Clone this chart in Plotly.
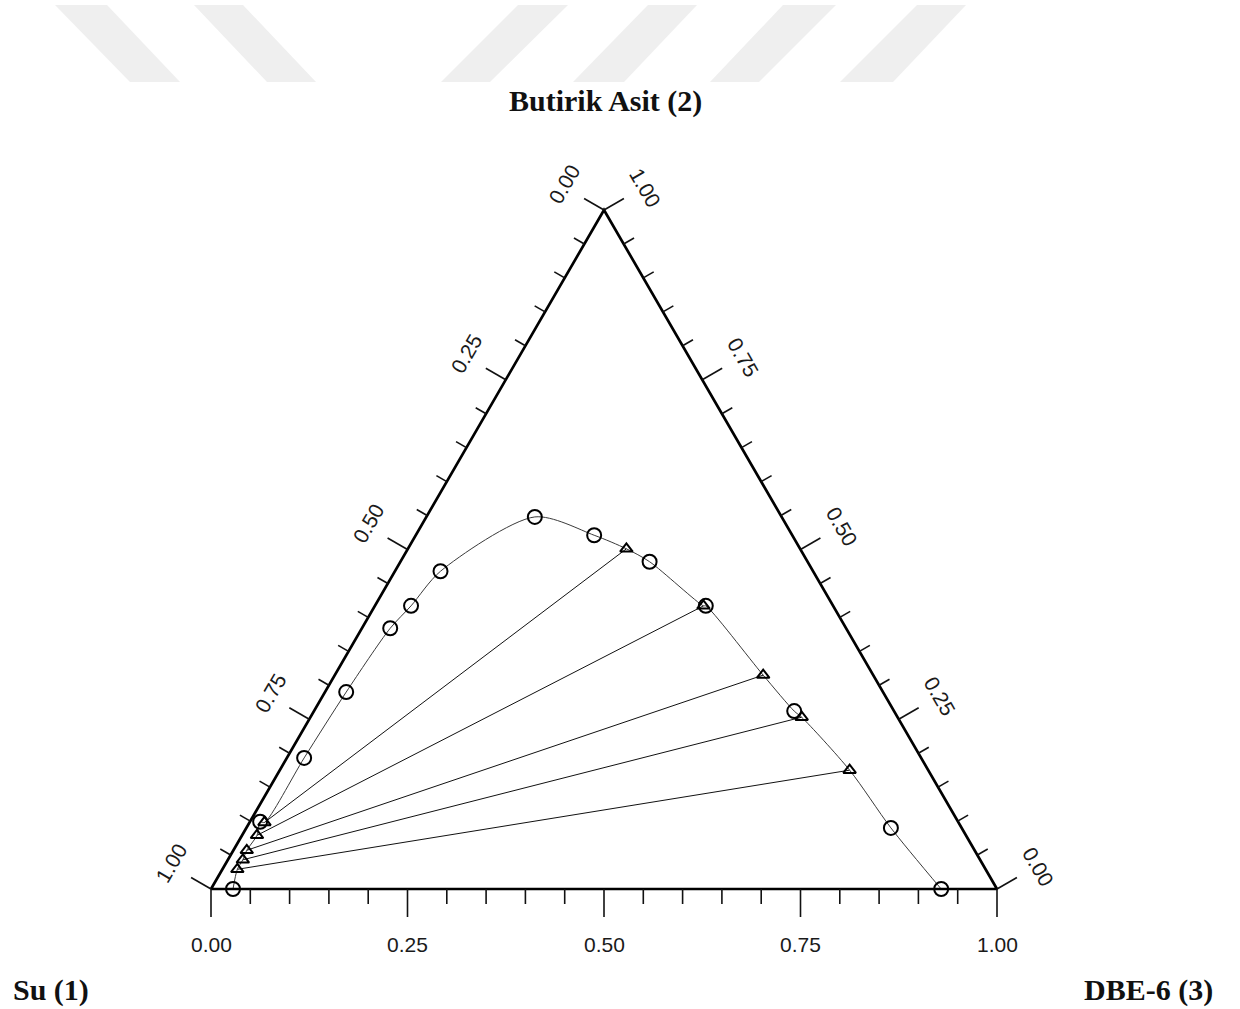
import math
import plotly.graph_objects as go

# ---- Liquid-liquid equilibrium data (mass fractions) ----
# component 2 = Butirik Asit, component 3 = DBE-6, Su (1) = 1 - w2 - w3
binodal_dbe = [0.028, 0.013, 0.022, 0.027, 0.036, 0.046, 0.058, 0.138, 0.227, 0.317, 0.421, 0.611, 0.820, 0.929]
binodal_acid = [0.000, 0.099, 0.193, 0.290, 0.384, 0.417, 0.468, 0.548, 0.521, 0.482, 0.417, 0.262, 0.090, 0.000]

# tie lines: water-rich phase and solvent-rich phase
raf_dbe = [0.019, 0.019, 0.017, 0.019, 0.019]
raf_acid = [0.098, 0.079, 0.057, 0.043, 0.029]
ext_dbe = [0.278, 0.418, 0.545, 0.625, 0.725]
ext_acid = [0.501, 0.417, 0.315, 0.253, 0.175]

tick_values = [0.00, 0.25, 0.50, 0.75, 1.00]
tick_labels = ["0.00", "0.25", "0.50", "0.75", "1.00"]
minor_step = 0.05

corner_labels = {"top": "Butirik Asit (2)", "left": "Su (1)", "right": "DBE-6 (3)"}

# ---- geometry ----
W, H = 1240, 1009
X0_PX, BASE_PX, SIDE_PX = 211, 889, 786      # left vertex x, base line y, side length (px)
TOP_PX = 210
SX = SIDE_PX                                 # px per unit along x
R3 = math.sqrt(3) / 2
SY = (BASE_PX - TOP_PX) / R3                 # px per unit along y

x_range = [-X0_PX / SX, (W - X0_PX) / SX]
y_range = [-(H - BASE_PX) / SY, BASE_PX / SY]


def to_xy(w3, w2):
    """Ternary composition -> cartesian position in the equilateral triangle."""
    return w3 + 0.5 * w2, w2 * R3


def px_offset(dx, dy):
    """Screen-pixel offset (y down) -> data offset."""
    return dx / SX, -dy / SY


fig = go.Figure()

# tie lines
tx, ty = [], []
for a3, a2, b3, b2 in zip(raf_dbe, raf_acid, ext_dbe, ext_acid):
    p, q = to_xy(a3, a2), to_xy(b3, b2)
    tx += [p[0], q[0], None]
    ty += [p[1], q[1], None]
fig.add_trace(go.Scatter(x=tx, y=ty, mode="lines",
                         line=dict(color="#111111", width=1), hoverinfo="skip"))

# binodal curve through all equilibrium points, ordered around the dome
pts = [to_xy(a, b) for a, b in zip(binodal_dbe + raf_dbe + ext_dbe,
                                   binodal_acid + raf_acid + ext_acid)]
pts.sort(key=lambda p: -math.atan2(p[1], p[0] - 0.5))
fig.add_trace(go.Scatter(x=[p[0] for p in pts], y=[p[1] for p in pts], mode="lines",
                         line=dict(color="#3a3a3a", width=1, shape="spline", smoothing=0.8),
                         hoverinfo="skip"))

# triangle frame
corners = [to_xy(0, 0), to_xy(1, 0), to_xy(0, 1), to_xy(0, 0)]
fig.add_trace(go.Scatter(x=[c[0] for c in corners], y=[c[1] for c in corners], mode="lines",
                         line=dict(color="#000000", width=2.7), hoverinfo="skip"))

# ticks
kx, ky = [], []
n_steps = int(round(1 / minor_step))
for k in range(n_steps + 1):
    v = k * minor_step
    major = k % 5 == 0
    # bottom edge (DBE-6 fraction), pointing down
    L = 28 if major else 15
    p = to_xy(v, 0)
    d = px_offset(0, L)
    kx += [p[0], p[0] + d[0], None]
    ky += [p[1], p[1] + d[1], None]
    # left edge (Su fraction), perpendicular outward
    L = 23 if major else 12
    p = to_xy(0, 1 - v)
    d = px_offset(-0.866 * L, -0.5 * L)
    kx += [p[0], p[0] + d[0], None]
    ky += [p[1], p[1] + d[1], None]
    # right edge (Butirik Asit fraction), perpendicular outward
    p = to_xy(1 - v, v)
    d = px_offset(0.866 * L, -0.5 * L)
    kx += [p[0], p[0] + d[0], None]
    ky += [p[1], p[1] + d[1], None]
fig.add_trace(go.Scatter(x=kx, y=ky, mode="lines",
                         line=dict(color="#111111", width=1.6), hoverinfo="skip"))

# markers
fig.add_trace(go.Scatter(x=[to_xy(a, b)[0] for a, b in zip(binodal_dbe, binodal_acid)],
                         y=[to_xy(a, b)[1] for a, b in zip(binodal_dbe, binodal_acid)],
                         mode="markers",
                         marker=dict(symbol="circle-open", size=14, color="#000000",
                                     line=dict(width=2))))
fig.add_trace(go.Scatter(x=[to_xy(a, b)[0] for a, b in zip(raf_dbe + ext_dbe, raf_acid + ext_acid)],
                         y=[to_xy(a, b)[1] for a, b in zip(raf_dbe + ext_dbe, raf_acid + ext_acid)],
                         mode="markers",
                         marker=dict(symbol="triangle-up-open", size=11, color="#000000",
                                     line=dict(width=2))))

# tick labels
tick_font = dict(family="Liberation Sans, Arial, sans-serif", size=21, color="#1a1a1a")
annotations = []
for v, t in zip(tick_values, tick_labels):
    p = to_xy(v, 0)
    d = px_offset(0, 55)
    annotations.append(dict(x=p[0] + d[0], y=p[1] + d[1], text=t, showarrow=False,
                            xanchor="center", yanchor="middle", font=tick_font))
    p = to_xy(0, 1 - v)
    d = px_offset(-47 * 0.866 + 3 * 0.5, -47 * 0.5 - 3 * 0.866)
    annotations.append(dict(x=p[0] + d[0], y=p[1] + d[1], text=t, showarrow=False,
                            textangle=-60, xanchor="center", yanchor="middle", font=tick_font))
    p = to_xy(1 - v, v)
    d = px_offset(47 * 0.866 + 1 * 0.5, -47 * 0.5 + 1 * 0.866)
    annotations.append(dict(x=p[0] + d[0], y=p[1] + d[1], text=t, showarrow=False,
                            textangle=60, xanchor="center", yanchor="middle", font=tick_font))

# corner component names
title_font = dict(family="Liberation Serif, Times New Roman, serif", size=30,
                  color="#111111", weight="bold")
for txt, (cx, cy) in [(corner_labels["top"], (605, 101)),
                      (corner_labels["left"], (51, 990)),
                      (corner_labels["right"], (1148, 990))]:
    annotations.append(dict(x=cx / W, y=1 - cy / H, xref="paper", yref="paper", text=txt,
                            showarrow=False, xanchor="center", yanchor="middle", font=title_font))

# light diagonal background stripes along the top edge
stripes = [(55, 107, 180, 130), (194, 243, 316, 267), (518, 568, 490, 441),
           (648, 697, 624, 573), (783, 836, 759, 710), (917, 966, 893, 840)]
shapes = []
y_t, y_b = 1 - 5 / H, 1 - 82 / H
for tl, tr, br, bl in stripes:
    path = (f"M {tl / W},{y_t} L {tr / W},{y_t} L {br / W},{y_b} L {bl / W},{y_b} Z")
    shapes.append(dict(type="path", path=path, xref="paper", yref="paper",
                       fillcolor="#efefef", line=dict(width=0), layer="below"))

fig.update_layout(
    width=W, height=H,
    margin=dict(l=0, r=0, t=0, b=0),
    paper_bgcolor="white", plot_bgcolor="white",
    showlegend=False,
    xaxis=dict(range=x_range, visible=False, fixedrange=True),
    yaxis=dict(range=y_range, visible=False, fixedrange=True),
    annotations=annotations,
    shapes=shapes,
)

fig.write_html("out.html")
